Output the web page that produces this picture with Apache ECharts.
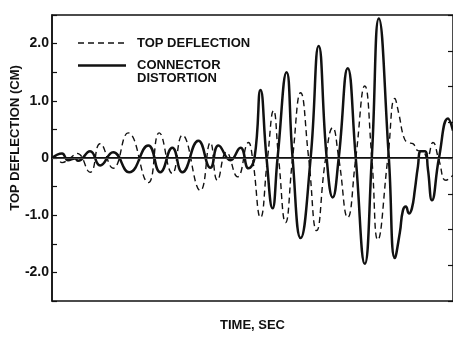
<!DOCTYPE html>
<html>
<head>
<meta charset="utf-8">
<script src="https://cdn.jsdelivr.net/npm/echarts@6/dist/echarts.min.js"></script>
<style>
html,body{margin:0;padding:0;background:#fff;}
#chart{width:453px;height:337px;}
</style>
</head>
<body>
<div id="chart"></div>
<script>
// ---- data (time in sec, values in cm) ----
var seriesNames = ['TOP DEFLECTION', 'CONNECTOR DISTORTION'];
var legendLabels = ['TOP DEFLECTION', 'CONNECTOR\nDISTORTION'];
var yTickLabels = ['-2.0', '-1.0', '0', '1.0', '2.0'];
var yTickValues = [-2, -1, 0, 1, 2];
var xAxisTitle = 'TIME, SEC';
var yAxisTitle = 'TOP DEFLECTION (CM)';

var timeTop = [0, 0.25, 0.5, 0.9, 1.25, 1.9, 2.4, 3.05, 3.8, 4.8, 5.35, 6.0, 6.5, 7.4, 7.9, 8.25, 8.7, 9.25, 9.8,
  10.0, 10.4, 10.75, 11.05, 11.3, 11.65, 12.0, 12.4, 12.8, 13.2, 13.65, 14.0, 14.3, 14.75, 15.15, 15.6, 15.95,
  16.25, 16.75, 17.1, 17.3, 17.55, 17.75, 18.0, 18.25, 18.5, 18.7, 19.0, 19.3, 19.65, 20.0];
var topDeflection = [0, 0.0, -0.08, 0.0, 0.08, -0.25, 0.25, -0.18, 0.44, -0.43, 0.44, -0.27, 0.4, -0.57, 0.27, -0.39, 0.1, -0.33, 0.27,
  0, -1.04, 0, 0.83, 0, -1.13, 0, 1.14, 0, -1.27, 0, 0.53, 0, -1.04, 0, 1.26, 0,
  -1.43, 0, 1.04, 0.77, 0.36, 0.27, 0.25, 0.13, 0.12, 0.0, 0.27, -0.04, -0.39, -0.3];

var timeConn = [0, 0.5, 0.8, 1.15, 1.3, 1.9, 2.4, 3.05, 3.85, 4.8, 5.4, 6.0, 6.5, 7.3, 7.9, 8.3, 8.9, 9.4, 9.8,
  10.1, 10.4, 10.7, 11.0, 11.25, 11.7, 12.0, 12.4, 12.9, 13.3, 13.7, 14.0, 14.3, 14.75, 15.15, 15.6, 15.95,
  16.3, 16.8, 17.1, 17.35, 17.5, 17.65, 17.8, 17.95, 18.1, 18.25, 18.4, 18.6, 18.75, 18.95, 19.3, 19.75, 20.0];
var connectorDistortion = [0, 0.08, -0.04, -0.01, -0.05, 0.12, -0.13, 0.1, -0.25, 0.22, -0.25, 0.18, -0.25, 0.3, -0.17, 0.22, -0.04, 0.18, -0.18,
  0, 1.19, 0, -0.88, 0, 1.5, 0, -1.4, 0, 1.96, 0, -0.69, 0, 1.57, 0, -1.85, 0,
  2.44, 0, -1.75, -1.3, -0.92, -0.85, -0.97, -0.88, -0.55, -0.15, 0.12, 0.12, -0.2, -0.74, 0, 0.69, 0.48];

function zip(a, b) { return a.map(function (t, i) { return [t, b[i]]; }); }

var FONT = '"Liberation Sans", Arial, Helvetica, sans-serif';
var INK = '#111';

var chart = echarts.init(document.getElementById('chart'), null, {renderer: 'canvas'});
chart.setOption({
  animation: false,
  backgroundColor: '#fff',
  grid: {left: 52, right: 0, top: 15, bottom: 36, show: true, borderColor: INK, borderWidth: 1.5},
  xAxis: {
    type: 'value', min: 0, max: 20,
    name: xAxisTitle, nameLocation: 'middle', nameGap: 18,
    nameTextStyle: {fontFamily: FONT, fontSize: 13, fontWeight: 'bold', color: INK, verticalAlign: 'top'},
    axisLine: {show: true, lineStyle: {color: INK, width: 2}},
    axisTick: {show: false}, axisLabel: {show: false}, splitLine: {show: false}
  },
  yAxis: [{
    type: 'value', min: -2.5, max: 2.5, interval: 0.5,
    axisLine: {show: true, lineStyle: {color: INK, width: 1.5}},
    axisTick: {show: true, inside: true, length: 5, lineStyle: {color: INK, width: 1.2}},
    axisLabel: {
      margin: 3, fontFamily: FONT, fontSize: 14, fontWeight: 'bold', color: INK,
      formatter: function (v) {
        var i = yTickValues.indexOf(Math.round(v * 100) / 100);
        return i >= 0 ? yTickLabels[i] : '';
      }
    },
    splitLine: {show: false}
  }, {
    type: 'value', min: -4, max: 4, interval: 1, position: 'right',
    axisLine: {show: false},
    axisTick: {show: true, inside: true, length: 5, lineStyle: {color: INK, width: 1.2}},
    axisLabel: {show: false}, splitLine: {show: false}
  }],
  series: [{
    name: seriesNames[0], type: 'line', data: zip(timeTop, topDeflection),
    smooth: 0.5, showSymbol: false, symbol: 'none', z: 2,
    lineStyle: {color: INK, width: 1.4, type: [6, 4]}
  }, {
    name: seriesNames[1], type: 'line', data: zip(timeConn, connectorDistortion),
    smooth: 0.5, showSymbol: false, symbol: 'none', z: 3,
    lineStyle: {color: INK, width: 2.5},
    markLine: {
      silent: true, symbol: ['none', 'none'], label: {show: false},
      lineStyle: {color: '#444', width: 1, type: 'solid'},
      data: [{yAxis: 0}]
    }
  }],
  graphic: [
    {type: 'line', shape: {x1: 78, y1: 43, x2: 126, y2: 43}, style: {stroke: INK, lineWidth: 1.4, lineDash: [6, 4]}},
    {type: 'text', x: 137, y: 43, style: {text: legendLabels[0], font: 'bold 13px ' + FONT, fill: INK, textVerticalAlign: 'middle'}},
    {type: 'line', shape: {x1: 78, y1: 65.5, x2: 126, y2: 65.5}, style: {stroke: INK, lineWidth: 2.5}},
    {type: 'text', x: 137, y: 59.5, style: {text: legendLabels[1], font: 'bold 13px ' + FONT, fill: INK, lineHeight: 12.5, textVerticalAlign: 'top'}},
    {type: 'text', x: 15, y: 138, rotation: Math.PI / 2,
      style: {text: yAxisTitle, font: 'bold 13px ' + FONT, fill: INK, textAlign: 'center', textVerticalAlign: 'middle'}}
  ]
});
</script>
</body>
</html>
